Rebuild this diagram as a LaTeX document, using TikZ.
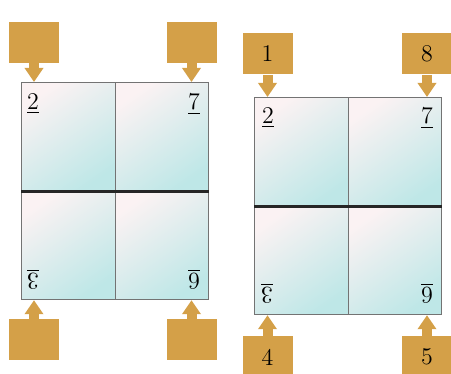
\documentclass[tikz,border=0pt]{standalone}
\usetikzlibrary{arrows.meta}
\definecolor{tagGold}{RGB}{212,160,72}
\definecolor{paneCyan}{RGB}{190,231,231}
\definecolor{paneLight}{RGB}{251,242,243}
\definecolor{frameGray}{RGB}{115,115,115}
\begin{document}
\begin{tikzpicture}[x=0.5pt, y=-0.5pt,
	tag/.style={fill=tagGold, minimum width=25pt, minimum height=20.5pt, inner sep=0pt, font=\large},
	pane/.style={draw=frameGray, line width=0.6pt, top color=paneLight, bottom color=paneCyan, shading angle=35, minimum width=46.75pt, minimum height=54.25pt, inner sep=0pt, anchor=north west},
	push/.style={draw=tagGold, line width=5pt, -{Triangle[width=9pt, length=7pt]}},
	digit/.style={font=\large, inner sep=0pt},
	divider/.style={line width=1.4pt, black!85}]
	\useasboundingbox (0,0) rectangle (451,374);
	\clip (0,0) rectangle (451,374);
	
	% left window
	\node[pane] (l-nw) at (21,82) {};
	\node[pane] (l-ne) at (114.5,82) {};
	\node[pane] (l-sw) at (21,190.5) {};
	\node[pane] (l-se) at (114.5,190.5) {};
	\draw[divider] (l-nw.south west) -- (l-ne.south east);
	
	\node[digit] at (33,104) {\underline{2}};
	\node[digit] at (194,104) {\underline{7}};
	\node[digit, rotate=180] at (33,279) {\underline{3}};
	\node[digit, rotate=180] at (194,279) {\underline{6}};
	
	\node[tag] (l-a) at (34,42.5) {};
	\node[tag] (l-b) at (191.5,42.5) {};
	\node[tag] (l-c) at (34,340) {};
	\node[tag] (l-d) at (191.5,340) {};
	
	\draw[push] (l-a.south) -- (l-a.south |- l-nw.north);
	\draw[push] (l-b.south) -- (l-b.south |- l-ne.north);
	\draw[push] (l-c.north) -- (l-c.north |- l-sw.south);
	\draw[push] (l-d.north) -- (l-d.north |- l-se.south);
	
	% right window
	\node[pane] (r-nw) at (254,97) {};
	\node[pane] (r-ne) at (347.5,97) {};
	\node[pane] (r-sw) at (254,205.5) {};
	\node[pane] (r-se) at (347.5,205.5) {};
	\draw[divider] (r-nw.south west) -- (r-ne.south east);
	
	\node[digit] at (268,118) {\underline{2}};
	\node[digit] at (427,118) {\underline{7}};
	\node[digit, rotate=180] at (267,293) {\underline{3}};
	\node[digit, rotate=180] at (427,293) {\underline{6}};
	
	\node[tag] (r-a) at (267.5,54) {1};
	\node[tag] (r-b) at (427,54) {8};
	\node[tag] (r-c) at (267.5,357) {4};
	\node[tag] (r-d) at (427,357) {5};
	
	\draw[push] (r-a.south) -- (r-a.south |- r-nw.north);
	\draw[push] (r-b.south) -- (r-b.south |- r-ne.north);
	\draw[push] (r-c.north) -- (r-c.north |- r-sw.south);
	\draw[push] (r-d.north) -- (r-d.north |- r-se.south);
\end{tikzpicture}
\end{document}
